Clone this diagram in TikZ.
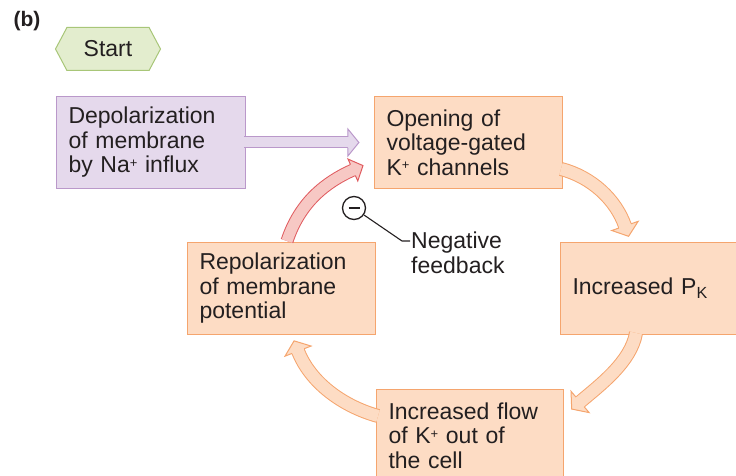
\documentclass[tikz,border=0pt]{standalone}
\usepackage{fontspec}
\setmainfont{Liberation Sans}
\usetikzlibrary{positioning,calc,shapes.symbols,decorations.markings}

\definecolor{peachfill}{RGB}{253,220,196}
\definecolor{peachline}{RGB}{245,165,110}
\definecolor{lilacfill}{RGB}{229,217,236}
\definecolor{lilacline}{RGB}{186,152,202}
\definecolor{sagefill}{RGB}{227,237,206}
\definecolor{sageline}{RGB}{168,198,120}
\definecolor{rosefill}{RGB}{247,200,196}
\definecolor{roseline}{RGB}{224,92,96}
\definecolor{inktext}{RGB}{35,31,32}

\newcommand{\diagfont}{\fontsize{23}{24.5}\selectfont}
\newcommand{\supplus}{\raisebox{0.45ex}{\fontsize{13}{13}\selectfont +}}

\tikzset{
  % line colour, fill colour, inner shaft width, half head width
  blockarrow/.style n args={4}{
    draw=#2, line width=#3,
    preaction={draw=#1, line width=#3+2pt},
    postaction={decorate},
    decoration={markings, mark=at position 0.999 with {
      \fill[#2] (-1pt,{-#3/2}) rectangle (1pt,{#3/2});
      \fill[#2] (0pt,-#4) -- (11pt,0pt) -- (0pt,#4) -- cycle;
      \draw[#1, line width=1pt, line join=miter] (0pt,{-#3/2-0.5pt}) -- (0pt,-#4) -- (11pt,0pt) -- (0pt,#4) -- (0pt,{#3/2+0.5pt});
    }}
  }
}

\begin{document}
\begin{tikzpicture}[x=1pt, y=-1pt,
    procbox/.style={rectangle, draw=peachline, fill=peachfill, line width=1pt, text=inktext,
      align=left, inner xsep=12pt, inner ysep=4pt, minimum height=92pt, anchor=north west, font=\diagfont},
    inputbox/.style={procbox, draw=lilacline, fill=lilacfill},
  ]
  \useasboundingbox (0,0) rectangle (736,476);
  \clip (0,0) rectangle (736,476);

  % Nodes
  \node[font=\bfseries\fontsize{21}{24}\selectfont, text=inktext] (panel) at (27,21) {(b)};
  \node[signal, signal to=west and east, signal pointer angle=124, draw=sageline, fill=sagefill,
    line width=1pt, minimum width=105pt, minimum height=43pt, inner sep=0pt, text=inktext,
    font=\diagfont] (start) at (108,49) {Start};

  \node[inputbox, text width=165pt] (depol) at (56,96) {Depolarization\\of membrane\\by Na\supplus{} influx};
  \node[procbox, text width=164pt] (opening) [right=128pt of depol.north east, anchor=north west] {Opening of\\voltage-gated\\K\supplus{} channels};
  \node[procbox, text width=164pt] (repol) at (187,242) {Repolarization\\of membrane\\potential};
  \node[procbox, text width=166pt] (pk) [right=184pt of repol.north east, anchor=north west] {Increased P\textsubscript{K}};
  \node[procbox, text width=163pt] (flow) [below=54pt of repol.south east, anchor=north west] {Increased flow\\of K\supplus{} out of\\the cell};

  \node[circle, draw=inktext, line width=1.3pt, minimum size=23pt, inner sep=0pt, text=inktext] (minus) at (354,208) {\rule{11pt}{2.6pt}};
  \coordinate (bend) at (402,241);
  \node[font=\diagfont, text=inktext, align=left, anchor=north west, inner sep=0pt] (feedback) at (411,232) {Negative\\feedback};

  % Lines
  \draw[inktext, line width=1.1pt] (minus.-35) -- (bend) -- ($(bend -| feedback.west)+(-1,0)$);

  \draw[blockarrow={lilacline}{lilacfill}{10pt}{13.5pt}] ($(depol.east)+(-2,0)$) -- ($(opening.west)+(-26,0)$);
  \draw[blockarrow={peachline}{peachfill}{12pt}{14pt}] ($(opening.south east)+(-2,-20)$) .. controls +(31,8) and +(-9,-26) .. ($(pk.north west)+(65,-16)$);
  \draw[blockarrow={peachline}{peachfill}{12pt}{14pt}] ($(pk.south west)+(76,-2)$) .. controls +(-5,29) and +(20,-17) .. ($(flow.north east)+(16,13)$);
  \draw[blockarrow={peachline}{peachfill}{12pt}{14pt}] ($(flow.north west)+(2,27)$) .. controls +(-36,-10) and +(12,31) .. ($(repol.south west)+(111,16)$);
  \draw[blockarrow={roseline}{rosefill}{11pt}{12pt}] ($(repol.north west)+(100,-1)$) .. controls +(13,-39) and +(-27,12) .. ($(opening.south west)+(-21,-19)$);
\end{tikzpicture}
\end{document}
